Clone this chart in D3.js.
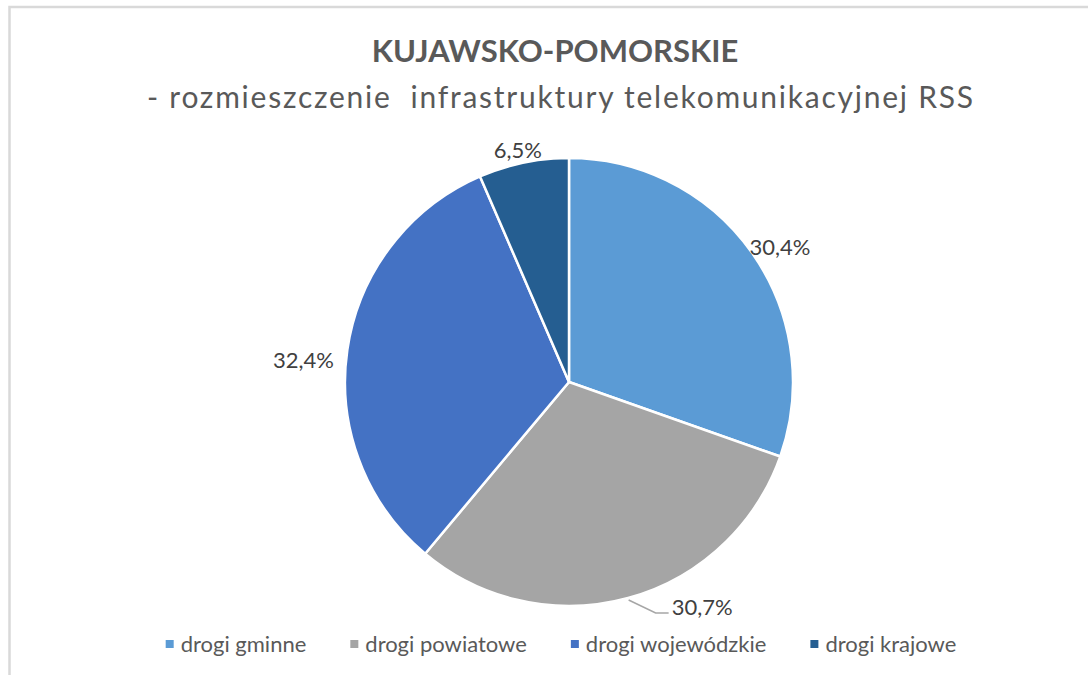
<!DOCTYPE html>
<html>
<head>
<meta charset="utf-8">
<script src="https://cdn.jsdelivr.net/npm/d3@7"></script>
<style>
  html, body { margin: 0; padding: 0; background: #fff; }
  svg { display: block; }
  text { font-family: Lato, "Open Sans", sans-serif; }
</style>
</head>
<body>
<div id="chart"></div>
<script>

var categories = ['drogi gminne', 'drogi powiatowe', 'drogi wojewódzkie', 'drogi krajowe'];
var shares = [30.4, 30.7, 32.4, 6.5];
var colors = ['#5B9BD5', '#A5A5A5', '#4472C4', '#255E91'];
var titleLines = ['KUJAWSKO-POMORSKIE', '- rozmieszczenie  infrastruktury telekomunikacyjnej RSS'];

(function (){

    var width = 1088, height = 675,
        cx = 569, cy = 382, radius = 224;

    var svg = d3.select('#chart').append('svg')
        .attr('width', width)
        .attr('height', height);

    // chart area frame (runs off the bottom/right of the picture)
    svg.append('rect')
        .attr('x', 9.5).attr('y', 7)
        .attr('width', width + 20).attr('height', height + 20)
        .attr('fill', '#fff')
        .attr('stroke', '#d9d9d9')
        .attr('stroke-width', 2.5);

    svg.append('text')
        .attr('x', 555).attr('y', 62)
        .attr('text-anchor', 'middle')
        .attr('font-size', 31)
        .attr('font-weight', 'bold')
        .attr('fill', '#595959')
        .text(titleLines[0]);

    svg.append('text')
        .attr('x', 560).attr('y', 108)
        .attr('text-anchor', 'middle')
        .attr('font-size', 30)
        .attr('fill', '#595959')
        .attr('textLength', 826)
        .attr('lengthAdjust', 'spacing')
        .style('white-space', 'pre')
        .text(titleLines[1]);

    var data = categories.map(function(c, i){
        return {name: c, value: shares[i], color: colors[i]};
    });

    var pie = d3.pie().sort(null).value(function(d){ return d.value; });
    var arcs = pie(data);

    var arc = d3.arc().innerRadius(0).outerRadius(radius);

    var g = svg.append('g').attr('transform', 'translate(' + cx + ',' + cy + ')');

    g.selectAll('path.slice').data(arcs)
        .enter().append('path')
        .attr('class', 'slice')
        .attr('d', arc)
        .attr('fill', function(d){ return d.data.color; })
        .attr('stroke', '#fff')
        .attr('stroke-width', 2.5)
        .attr('stroke-linejoin', 'round');

    var fmt = function(v){ return d3.format('.1f')(v).replace('.', ',') + '%'; };

    // label placement: box edge touches a point just outside the arc
    var labelGap = [4, 0, 14, 4],
        labelDy = [2, 0, 14, 0],
        leader = [null, {dx: 27, dy: 13, len: 13}, null, null];

    var labels = g.selectAll('g.lbl').data(arcs)
        .enter().append('g').attr('class', 'lbl');

    labels.each(function(d, i){
        var sel = d3.select(this),
            mid = (d.startAngle + d.endAngle) / 2,
            ux = Math.sin(mid), uy = -Math.cos(mid);

        var t = sel.append('text')
            .attr('font-size', 22)
            .attr('fill', '#404040')
            .text(fmt(d.data.value));

        var bb = t.node().getBBox(),
            w = bb.width, h = 18;

        if (leader[i]) {
            var L = leader[i],
                p0 = [ux * (radius + 2), uy * (radius + 2)],
                p1 = [p0[0] + L.dx, p0[1] + L.dy],
                p2 = [p1[0] + L.len, p1[1]];
            sel.insert('path', 'text')
                .attr('d', d3.line()([p0, p1, p2]))
                .attr('fill', 'none')
                .attr('stroke', '#a6a6a6')
                .attr('stroke-width', 1.5);
            t.attr('x', p2[0] + 3).attr('y', p2[1] + 2).attr('text-anchor', 'start');
            return;
        }

        var r = radius + labelGap[i],
            px = ux * r + ux * w / 2,
            py = uy * r + uy * h / 2 + labelDy[i];

        t.attr('x', px)
            .attr('y', py + 8)
            .attr('text-anchor', 'middle');
    });

    // legend
    var legend = svg.append('g');
    var items = legend.selectAll('g.item').data(data)
        .enter().append('g').attr('class', 'item');

    items.append('rect')
        .attr('width', 8).attr('height', 8)
        .attr('y', -12)
        .attr('fill', function(d){ return d.color; });

    items.append('text')
        .attr('x', 15)
        .attr('font-size', 22)
        .attr('fill', '#595959')
        .text(function(d){ return d.name; });

    var x = 0;
    items.each(function(){
        var bw = this.getBBox().width;
        d3.select(this).attr('transform', 'translate(' + x + ',652)');
        x += bw + 44;
    });
    var total = x - 44;
    legend.attr('transform', 'translate(' + (561 - total / 2) + ',0)');

})();
</script>
</body>
</html>
